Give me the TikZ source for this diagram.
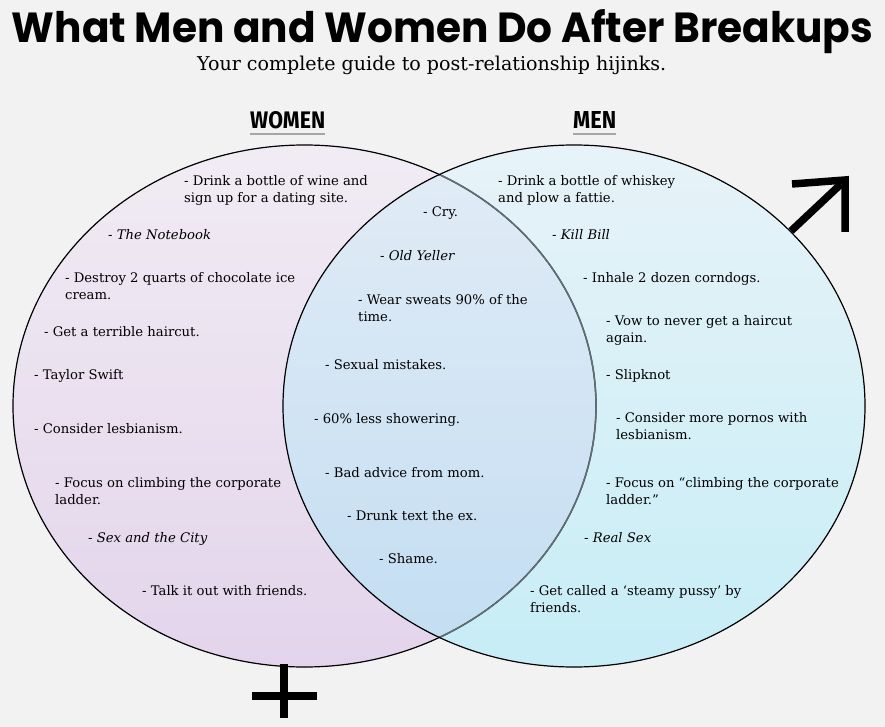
\documentclass[tikz,border=0pt]{standalone}
\usepackage{fontspec}
\usepackage{graphicx}
\setmainfont{DejaVu Serif}
\newfontfamily\titlefont{Poppins}
\newfontfamily\headfont{Fira Sans}
\definecolor{bg}{HTML}{F2F2F2}
\definecolor{lavtop}{HTML}{F1ECF4}
\definecolor{lavbot}{HTML}{E3D4EB}
\definecolor{cyantop}{HTML}{E7F3F8}
\definecolor{cyanbot}{HTML}{C7EDF6}
\definecolor{ovtop}{HTML}{E2ECF6}
\definecolor{ovbot}{HTML}{C2DDF2}
\definecolor{innerline}{HTML}{5F6E74}
\tikzset{
  item/.style={anchor=north west, inner sep=0pt, align=left, font=\fontsize{13.2}{17}\selectfont},
  symbolbar/.style={line width=7.5pt, black},
  outline/.style={line width=1.2pt, black}
}
\begin{document}
\begin{tikzpicture}[x=1pt,y=-1pt]
\fill[bg] (0,0) rectangle (885,727);
\useasboundingbox (0,0) rectangle (885,727);

% circles
\fill[top color=lavtop, bottom color=lavbot] (304.5,406) ellipse [x radius=291.5pt, y radius=261pt];
\fill[top color=cyantop, bottom color=cyanbot] (574,406) ellipse [x radius=291pt, y radius=261pt];
\begin{scope}
  \clip (304.5,406) ellipse [x radius=291.5pt, y radius=261pt];
  \fill[top color=ovtop, bottom color=ovbot] (574,406) ellipse [x radius=291pt, y radius=261pt];
\end{scope}
\draw[outline] (304.5,406) ellipse [x radius=291.5pt, y radius=261pt];
\begin{scope}
  \clip (574,406) ellipse [x radius=291pt, y radius=261pt];
  \draw[line width=1.6pt, innerline] (304.5,406) ellipse [x radius=291.5pt, y radius=261pt];
\end{scope}
\draw[outline] (574,406) ellipse [x radius=291pt, y radius=261pt];

% male symbol
\coordinate (marm) at (792,184);
\coordinate (mcorner) at (845,180);
\coordinate (mdown) at (845,232);
\coordinate (mtail) at (791,231);
\coordinate (mhead) at (841,184);
\draw[symbolbar, line join=miter] (marm) -- (mcorner) -- (mdown);
\draw[symbolbar] (mtail) -- (mhead);

% female symbol
\coordinate (ftop) at (284,664);
\coordinate (fbot) at (284,718);
\coordinate (fleft) at (252,696);
\coordinate (fright) at (317,696);
\draw[symbolbar, line width=8pt] (ftop) -- (fbot);
\draw[symbolbar, line width=8pt] (fleft) -- (fright);

% title
\node[anchor=base, inner sep=0pt] (title) at (442.5,43)
  {\resizebox{861pt}{33pt}{\titlefont\bfseries What Men and Women Do After Breakups}};
\node[anchor=base west, inner sep=0pt] (subtitle) at (197,71)
  {\resizebox{469pt}{!}{Your complete guide to post-relationship hijinks.}};

% headings
\node[anchor=base west, inner sep=0pt] (hw) at (250,129) {\resizebox{75pt}{17pt}{\headfont\bfseries WOMEN}};
\node[anchor=base west, inner sep=0pt] (hm) at (573,129) {\resizebox{43pt}{17pt}{\headfont\bfseries MEN}};
\draw[gray!70, line width=1.8pt] ([yshift=-5pt]hw.base west) -- ([yshift=-5pt]hw.base east);
\draw[gray!70, line width=1.8pt] ([yshift=-5pt]hm.base west) -- ([yshift=-5pt]hm.base east);

% women
\node[item] (w1) at (184,175) {- Drink a bottle of wine and\\sign up for a dating site.};
\node[item] (w2) at (108,229) {- \textit{The Notebook}};
\node[item] (w3) at (65,272) {- Destroy 2 quarts of chocolate ice\\cream.};
\node[item] (w4) at (44,326) {- Get a terrible haircut.};
\node[item] (w5) at (34,369) {- Taylor Swift};
\node[item] (w6) at (34,423) {- Consider lesbianism.};
\node[item] (w7) at (55,477) {- Focus on climbing the corporate\\ladder.};
\node[item] (w8) at (88,532) {- \textit{Sex and the City}};
\node[item] (w9) at (142,585) {- Talk it out with friends.};

% both
\node[item] (b1) at (423,207) {- Cry.};
\node[item] (b2) at (380,250) {- \textit{Old Yeller}};
\node[item] (b3) at (358,294) {- Wear sweats 90\% of the\\time.};
\node[item] (b4) at (325,359) {- Sexual mistakes.};
\node[item] (b5) at (314,413) {- 60\% less showering.};
\node[item] (b6) at (325,467) {- Bad advice from mom.};
\node[item] (b7) at (347,510) {- Drunk text the ex.};
\node[item] (b8) at (379,553) {- Shame.};

% men
\node[item] (m1) at (498,175) {- Drink a bottle of whiskey\\and plow a fattie.};
\node[item] (m2) at (552,229) {- \textit{Kill Bill}};
\node[item] (m3) at (583,272) {- Inhale 2 dozen corndogs.};
\node[item] (m4) at (606,315) {- Vow to never get a haircut\\again.};
\node[item] (m5) at (606,369) {- Slipknot};
\node[item] (m6) at (616,412) {- Consider more pornos with\\lesbianism.};
\node[item] (m7) at (606,477) {- Focus on “climbing the corporate\\ladder.”};
\node[item] (m8) at (584,532) {- \textit{Real Sex}};
\node[item] (m9) at (530,585) {- Get called a ‘steamy pussy’ by\\friends.};
\end{tikzpicture}
\end{document}
